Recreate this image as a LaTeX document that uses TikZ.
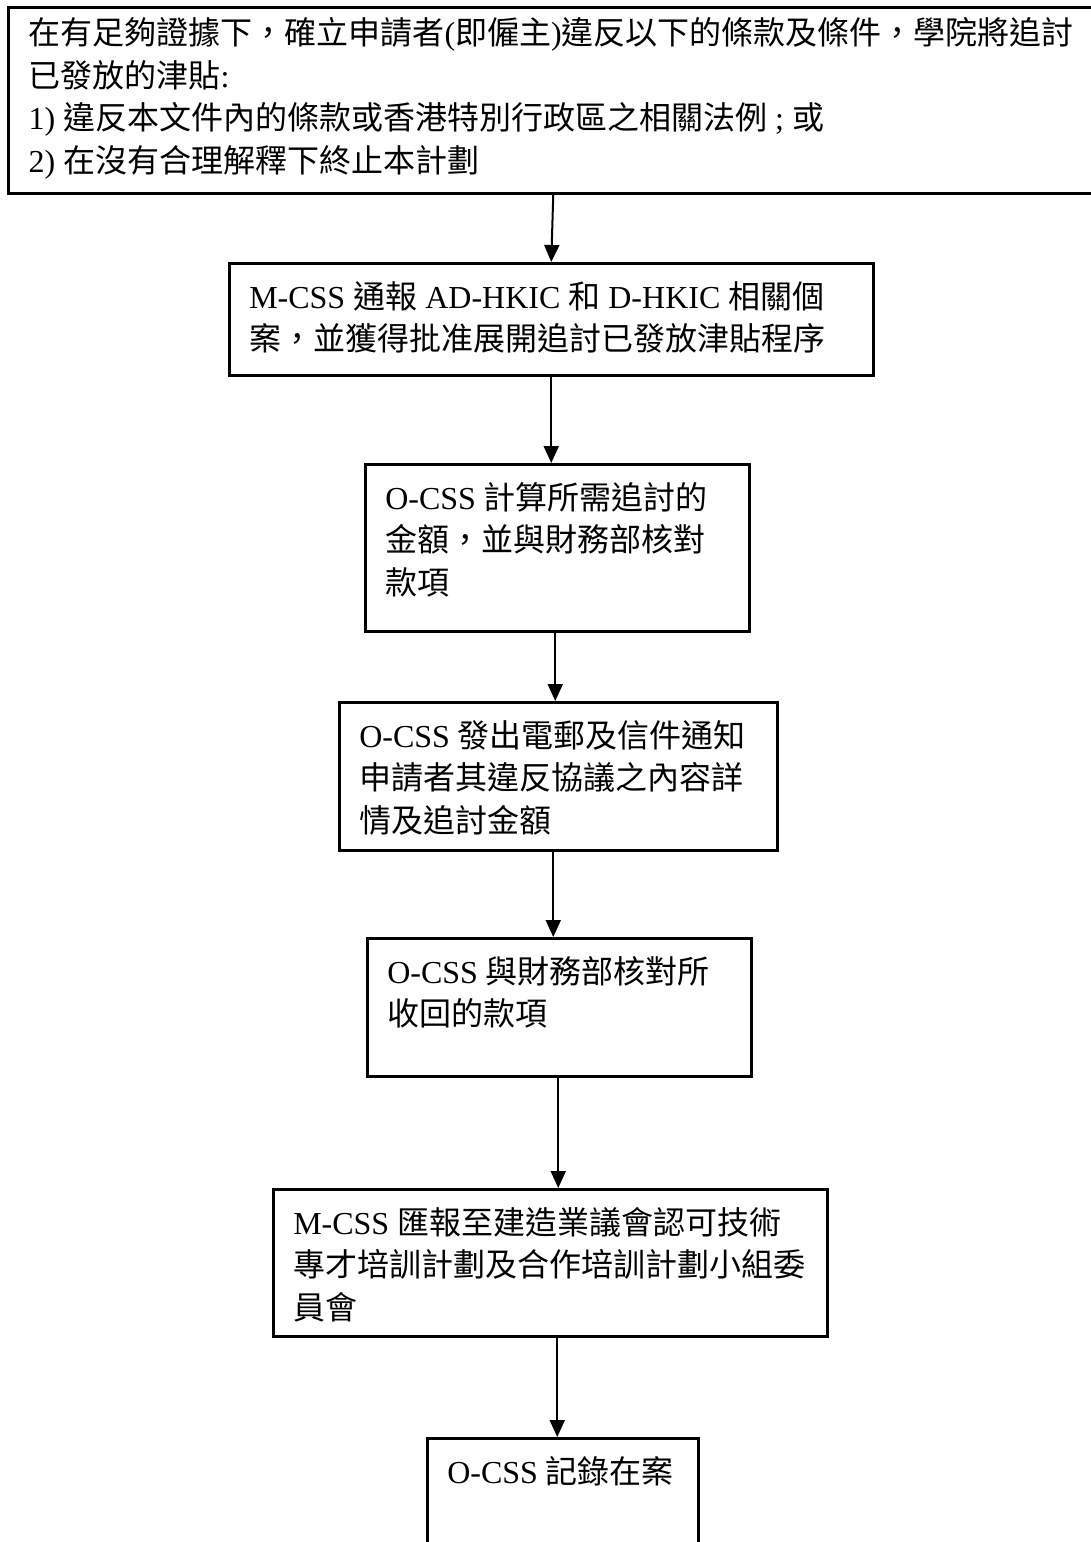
\documentclass[tikz,border=0pt]{standalone}
\usepackage{fontspec}
\setmainfont{Liberation Serif}
\newfontfamily\cjk{Noto Sans CJK TC}
\usetikzlibrary{arrows.meta}
% text block of a step: width, height, lines
\newcommand\steplines[3]{\parbox[t][#2pt][t]{#1pt}{\fontsize{32}{42.5}\selectfont #3}}

\begin{document}
\begin{tikzpicture}[x=1pt,y=-1pt,
        stepbox/.style={draw,line width=2.5pt,anchor=north west,inner xsep=20pt,inner ysep=18pt},
        flow/.style={-{Triangle[length=17pt,width=15pt]},line width=2pt}]
    \useasboundingbox (0,0) rectangle (1091,1542);
    % conditions (right edge runs off the page)
    \node[stepbox,inner ysep=10pt,line width=3pt] (rule) at (7,6) {\steplines{1070}{166}{%
        {\cjk 在有足夠證據下，確立申請者}({\cjk 即僱主}){\cjk 違反以下的條款及條件，學院將追討}\\
        {\cjk 已發放的津貼}:\\
        1) {\cjk 違反本文件內的條款或香港特別行政區之相關法例} ; {\cjk 或}\\
        2) {\cjk 在沒有合理解釋下終止本計劃}}};
    % steps
    \node[stepbox] (notify) at (228,262) {\steplines{604}{76}{%
        M-CSS {\cjk 通報} AD-HKIC {\cjk 和} D-HKIC {\cjk 相關個}\\
        {\cjk 案，並獲得批准展開追討已發放津貼程序}}};
    \node[stepbox] (calc) at (364,463) {\steplines{344}{131}{%
        O-CSS {\cjk 計算所需追討的}\\
        {\cjk 金額，並與財務部核對}\\
        {\cjk 款項}}};
    \node[stepbox] (mail) at (338,701) {\steplines{398}{112}{%
        O-CSS {\cjk 發出電郵及信件通知}\\
        {\cjk 申請者其違反協議之內容詳}\\
        {\cjk 情及追討金額}}};
    \node[stepbox] (check) at (366,937) {\steplines{344}{102}{%
        O-CSS {\cjk 與財務部核對所}\\
        {\cjk 收回的款項}}};
    \node[stepbox] (report) at (272,1188) {\steplines{514}{111}{%
        M-CSS {\cjk 匯報至建造業議會認可技術}\\
        {\cjk 專才培訓計劃及合作培訓計劃小組委}\\
        {\cjk 員會}}};
    \node[stepbox] (file) at (426,1437) {\steplines{231}{170}{%
        O-CSS {\cjk 記錄在案}}};
    % arrows
    \draw[flow] ([xshift=2pt]notify.north |- rule.south) -- (notify.north);
    \draw[flow] (notify.south) -- (notify.south |- calc.north);
    \draw[flow] ([xshift=-2pt]calc.south) -- ([xshift=-2pt]calc.south |- mail.north);
    \draw[flow] ([xshift=-5pt]mail.south) -- ([xshift=-5pt]mail.south |- check.north);
    \draw[flow] ([xshift=-1pt]check.south) -- ([xshift=-1pt]check.south |- report.north);
    \draw[flow] ([xshift=7pt]report.south) -- ([xshift=7pt]report.south |- file.north);
\end{tikzpicture}
\end{document}
